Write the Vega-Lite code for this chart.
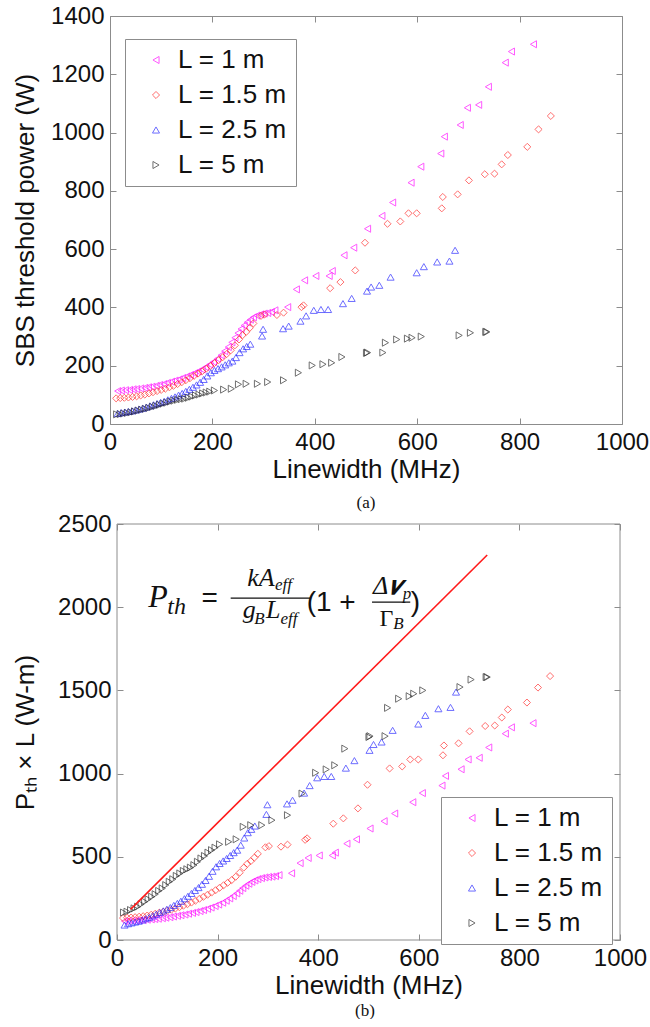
{
  "$schema": "https://vega.github.io/schema/vega-lite/v6.json",
  "background": "white",
  "padding": {"left": 12, "top": 3, "right": 3, "bottom": 0},
  "config": {
    "font": "Liberation Sans",
    "view": {"stroke": "#8c8c8c", "strokeWidth": 1},
    "axis": {
      "labelFont": "Liberation Sans", "labelFontSize": 24, "labelColor": "#111111", "format": "d",
      "titleFont": "Liberation Sans", "titleFontSize": 26, "titleFontWeight": "normal", "titleColor": "#111111",
      "domain": false, "grid": false, "tickColor": "#8c8c8c", "tickSize": -6, "labelFlush": false, "labelOverlap": false
    },
    "axisX": {"labelPadding": 12, "titlePadding": 2},
    "axisY": {"labelPadding": 12},
    "legend": {
      "orient": "none", "title": null, "labelFont": "Liberation Sans", "labelFontSize": 26, "labelColor": "#111111",
      "strokeColor": "#8c8c8c", "fillColor": "white", "padding": 8, "rowPadding": 9, "symbolSize": 50,
      "symbolStrokeWidth": 1, "symbolOffset": 10, "labelOffset": 9
    }
  },
  "datasets": {
    "a": [
      {"L":"L = 1 m","x":15,"y":113},{"L":"L = 1 m","x":22,"y":115},{"L":"L = 1 m","x":30,"y":116},{"L":"L = 1 m","x":38,"y":117},{"L":"L = 1 m","x":45,"y":119},{"L":"L = 1 m","x":52,"y":120},{"L":"L = 1 m","x":60,"y":122},{"L":"L = 1 m","x":68,"y":124},{"L":"L = 1 m","x":75,"y":126},{"L":"L = 1 m","x":82,"y":128},{"L":"L = 1 m","x":90,"y":131},{"L":"L = 1 m","x":97,"y":134},{"L":"L = 1 m","x":105,"y":137},{"L":"L = 1 m","x":112,"y":141},{"L":"L = 1 m","x":120,"y":145},{"L":"L = 1 m","x":127,"y":149},{"L":"L = 1 m","x":135,"y":153},{"L":"L = 1 m","x":142,"y":158},{"L":"L = 1 m","x":150,"y":163},{"L":"L = 1 m","x":157,"y":168},{"L":"L = 1 m","x":165,"y":174},{"L":"L = 1 m","x":172,"y":180},{"L":"L = 1 m","x":180,"y":187},{"L":"L = 1 m","x":187,"y":195},{"L":"L = 1 m","x":195,"y":204},{"L":"L = 1 m","x":202,"y":213},{"L":"L = 1 m","x":210,"y":224},{"L":"L = 1 m","x":217,"y":236},{"L":"L = 1 m","x":224,"y":250},{"L":"L = 1 m","x":231,"y":264},{"L":"L = 1 m","x":238,"y":280},{"L":"L = 1 m","x":244,"y":296},{"L":"L = 1 m","x":250,"y":312},{"L":"L = 1 m","x":256,"y":326},{"L":"L = 1 m","x":262,"y":338},{"L":"L = 1 m","x":268,"y":349},{"L":"L = 1 m","x":274,"y":358},{"L":"L = 1 m","x":280,"y":366},{"L":"L = 1 m","x":287,"y":372},{"L":"L = 1 m","x":294,"y":376},{"L":"L = 1 m","x":301,"y":379},{"L":"L = 1 m","x":308,"y":381},{"L":"L = 1 m","x":315,"y":384},{"L":"L = 1 m","x":322,"y":390},{"L":"L = 1 m","x":347,"y":401},{"L":"L = 1 m","x":364,"y":462},{"L":"L = 1 m","x":380,"y":493},{"L":"L = 1 m","x":402,"y":508},{"L":"L = 1 m","x":428,"y":508},{"L":"L = 1 m","x":434,"y":525},{"L":"L = 1 m","x":457,"y":579},{"L":"L = 1 m","x":476,"y":605},{"L":"L = 1 m","x":503,"y":670},{"L":"L = 1 m","x":531,"y":714},{"L":"L = 1 m","x":552,"y":760},{"L":"L = 1 m","x":588,"y":828},{"L":"L = 1 m","x":607,"y":883},{"L":"L = 1 m","x":646,"y":928},{"L":"L = 1 m","x":653,"y":986},{"L":"L = 1 m","x":684,"y":1026},{"L":"L = 1 m","x":698,"y":1085},{"L":"L = 1 m","x":720,"y":1095},{"L":"L = 1 m","x":739,"y":1157},{"L":"L = 1 m","x":772,"y":1240},{"L":"L = 1 m","x":784,"y":1278},{"L":"L = 1 m","x":827,"y":1303},
      {"L":"L = 1.5 m","x":12,"y":88},{"L":"L = 1.5 m","x":20,"y":89},{"L":"L = 1.5 m","x":28,"y":90},{"L":"L = 1.5 m","x":36,"y":91},{"L":"L = 1.5 m","x":44,"y":93},{"L":"L = 1.5 m","x":52,"y":95},{"L":"L = 1.5 m","x":60,"y":98},{"L":"L = 1.5 m","x":68,"y":101},{"L":"L = 1.5 m","x":76,"y":105},{"L":"L = 1.5 m","x":84,"y":109},{"L":"L = 1.5 m","x":92,"y":113},{"L":"L = 1.5 m","x":100,"y":117},{"L":"L = 1.5 m","x":108,"y":121},{"L":"L = 1.5 m","x":116,"y":126},{"L":"L = 1.5 m","x":124,"y":131},{"L":"L = 1.5 m","x":132,"y":137},{"L":"L = 1.5 m","x":140,"y":143},{"L":"L = 1.5 m","x":148,"y":150},{"L":"L = 1.5 m","x":156,"y":157},{"L":"L = 1.5 m","x":164,"y":165},{"L":"L = 1.5 m","x":172,"y":173},{"L":"L = 1.5 m","x":180,"y":181},{"L":"L = 1.5 m","x":188,"y":190},{"L":"L = 1.5 m","x":196,"y":199},{"L":"L = 1.5 m","x":204,"y":209},{"L":"L = 1.5 m","x":212,"y":219},{"L":"L = 1.5 m","x":220,"y":229},{"L":"L = 1.5 m","x":228,"y":240},{"L":"L = 1.5 m","x":236,"y":253},{"L":"L = 1.5 m","x":244,"y":270},{"L":"L = 1.5 m","x":252,"y":290},{"L":"L = 1.5 m","x":259,"y":305},{"L":"L = 1.5 m","x":266,"y":316},{"L":"L = 1.5 m","x":273,"y":330},{"L":"L = 1.5 m","x":280,"y":345},{"L":"L = 1.5 m","x":295,"y":371},{"L":"L = 1.5 m","x":302,"y":376},{"L":"L = 1.5 m","x":326,"y":374},{"L":"L = 1.5 m","x":339,"y":382},{"L":"L = 1.5 m","x":374,"y":401},{"L":"L = 1.5 m","x":378,"y":407},{"L":"L = 1.5 m","x":430,"y":466},{"L":"L = 1.5 m","x":450,"y":487},{"L":"L = 1.5 m","x":479,"y":527},{"L":"L = 1.5 m","x":498,"y":622},{"L":"L = 1.5 m","x":542,"y":687},{"L":"L = 1.5 m","x":567,"y":695},{"L":"L = 1.5 m","x":583,"y":723},{"L":"L = 1.5 m","x":599,"y":723},{"L":"L = 1.5 m","x":648,"y":740},{"L":"L = 1.5 m","x":650,"y":779},{"L":"L = 1.5 m","x":679,"y":788},{"L":"L = 1.5 m","x":701,"y":836},{"L":"L = 1.5 m","x":732,"y":857},{"L":"L = 1.5 m","x":751,"y":859},{"L":"L = 1.5 m","x":765,"y":891},{"L":"L = 1.5 m","x":777,"y":923},{"L":"L = 1.5 m","x":815,"y":951},{"L":"L = 1.5 m","x":837,"y":1011},{"L":"L = 1.5 m","x":861,"y":1057},
      {"L":"L = 2.5 m","x":15,"y":36},{"L":"L = 2.5 m","x":22,"y":39},{"L":"L = 2.5 m","x":29,"y":41},{"L":"L = 2.5 m","x":36,"y":43},{"L":"L = 2.5 m","x":43,"y":45},{"L":"L = 2.5 m","x":50,"y":48},{"L":"L = 2.5 m","x":57,"y":51},{"L":"L = 2.5 m","x":64,"y":54},{"L":"L = 2.5 m","x":71,"y":58},{"L":"L = 2.5 m","x":78,"y":62},{"L":"L = 2.5 m","x":85,"y":66},{"L":"L = 2.5 m","x":92,"y":70},{"L":"L = 2.5 m","x":99,"y":74},{"L":"L = 2.5 m","x":106,"y":78},{"L":"L = 2.5 m","x":113,"y":83},{"L":"L = 2.5 m","x":120,"y":88},{"L":"L = 2.5 m","x":127,"y":93},{"L":"L = 2.5 m","x":134,"y":99},{"L":"L = 2.5 m","x":141,"y":105},{"L":"L = 2.5 m","x":148,"y":112},{"L":"L = 2.5 m","x":155,"y":119},{"L":"L = 2.5 m","x":162,"y":126},{"L":"L = 2.5 m","x":169,"y":134},{"L":"L = 2.5 m","x":176,"y":143},{"L":"L = 2.5 m","x":183,"y":153},{"L":"L = 2.5 m","x":190,"y":165},{"L":"L = 2.5 m","x":197,"y":176},{"L":"L = 2.5 m","x":204,"y":184},{"L":"L = 2.5 m","x":211,"y":190},{"L":"L = 2.5 m","x":218,"y":196},{"L":"L = 2.5 m","x":225,"y":203},{"L":"L = 2.5 m","x":232,"y":210},{"L":"L = 2.5 m","x":239,"y":216},{"L":"L = 2.5 m","x":246,"y":228},{"L":"L = 2.5 m","x":253,"y":245},{"L":"L = 2.5 m","x":260,"y":258},{"L":"L = 2.5 m","x":267,"y":266},{"L":"L = 2.5 m","x":274,"y":274},{"L":"L = 2.5 m","x":297,"y":302},{"L":"L = 2.5 m","x":299,"y":325},{"L":"L = 2.5 m","x":338,"y":327},{"L":"L = 2.5 m","x":349,"y":336},{"L":"L = 2.5 m","x":372,"y":353},{"L":"L = 2.5 m","x":383,"y":371},{"L":"L = 2.5 m","x":398,"y":390},{"L":"L = 2.5 m","x":412,"y":393},{"L":"L = 2.5 m","x":426,"y":393},{"L":"L = 2.5 m","x":455,"y":413},{"L":"L = 2.5 m","x":472,"y":431},{"L":"L = 2.5 m","x":502,"y":456},{"L":"L = 2.5 m","x":510,"y":470},{"L":"L = 2.5 m","x":526,"y":476},{"L":"L = 2.5 m","x":548,"y":504},{"L":"L = 2.5 m","x":599,"y":519},{"L":"L = 2.5 m","x":613,"y":540},{"L":"L = 2.5 m","x":639,"y":556},{"L":"L = 2.5 m","x":663,"y":559},{"L":"L = 2.5 m","x":674,"y":596},
      {"L":"L = 5 m","x":13,"y":33},{"L":"L = 5 m","x":20,"y":34},{"L":"L = 5 m","x":27,"y":36},{"L":"L = 5 m","x":34,"y":38},{"L":"L = 5 m","x":41,"y":40},{"L":"L = 5 m","x":48,"y":43},{"L":"L = 5 m","x":55,"y":46},{"L":"L = 5 m","x":62,"y":49},{"L":"L = 5 m","x":69,"y":52},{"L":"L = 5 m","x":76,"y":55},{"L":"L = 5 m","x":83,"y":59},{"L":"L = 5 m","x":90,"y":62},{"L":"L = 5 m","x":97,"y":66},{"L":"L = 5 m","x":104,"y":70},{"L":"L = 5 m","x":111,"y":73},{"L":"L = 5 m","x":118,"y":77},{"L":"L = 5 m","x":125,"y":80},{"L":"L = 5 m","x":132,"y":83},{"L":"L = 5 m","x":139,"y":85},{"L":"L = 5 m","x":146,"y":87},{"L":"L = 5 m","x":153,"y":90},{"L":"L = 5 m","x":160,"y":94},{"L":"L = 5 m","x":167,"y":98},{"L":"L = 5 m","x":174,"y":101},{"L":"L = 5 m","x":181,"y":105},{"L":"L = 5 m","x":188,"y":108},{"L":"L = 5 m","x":195,"y":111},{"L":"L = 5 m","x":204,"y":115},{"L":"L = 5 m","x":222,"y":118},{"L":"L = 5 m","x":237,"y":121},{"L":"L = 5 m","x":251,"y":136},{"L":"L = 5 m","x":266,"y":138},{"L":"L = 5 m","x":288,"y":138},{"L":"L = 5 m","x":308,"y":144},{"L":"L = 5 m","x":339,"y":150},{"L":"L = 5 m","x":368,"y":176},{"L":"L = 5 m","x":395,"y":201},{"L":"L = 5 m","x":416,"y":205},{"L":"L = 5 m","x":433,"y":210},{"L":"L = 5 m","x":453,"y":230},{"L":"L = 5 m","x":501,"y":244},{"L":"L = 5 m","x":503,"y":245},{"L":"L = 5 m","x":533,"y":245},{"L":"L = 5 m","x":538,"y":279},{"L":"L = 5 m","x":560,"y":290},{"L":"L = 5 m","x":581,"y":293},{"L":"L = 5 m","x":590,"y":296},{"L":"L = 5 m","x":608,"y":300},{"L":"L = 5 m","x":682,"y":304},{"L":"L = 5 m","x":704,"y":313},{"L":"L = 5 m","x":734,"y":316},{"L":"L = 5 m","x":736,"y":316}
    ],
    "b": [
      {"L":"L = 1 m","x":15,"y":113},{"L":"L = 1 m","x":22,"y":115},{"L":"L = 1 m","x":30,"y":116},{"L":"L = 1 m","x":38,"y":117},{"L":"L = 1 m","x":45,"y":119},{"L":"L = 1 m","x":52,"y":120},{"L":"L = 1 m","x":60,"y":122},{"L":"L = 1 m","x":68,"y":124},{"L":"L = 1 m","x":75,"y":126},{"L":"L = 1 m","x":82,"y":128},{"L":"L = 1 m","x":90,"y":131},{"L":"L = 1 m","x":97,"y":134},{"L":"L = 1 m","x":105,"y":137},{"L":"L = 1 m","x":112,"y":141},{"L":"L = 1 m","x":120,"y":145},{"L":"L = 1 m","x":127,"y":149},{"L":"L = 1 m","x":135,"y":153},{"L":"L = 1 m","x":142,"y":158},{"L":"L = 1 m","x":150,"y":163},{"L":"L = 1 m","x":157,"y":168},{"L":"L = 1 m","x":165,"y":174},{"L":"L = 1 m","x":172,"y":180},{"L":"L = 1 m","x":180,"y":187},{"L":"L = 1 m","x":187,"y":195},{"L":"L = 1 m","x":195,"y":204},{"L":"L = 1 m","x":202,"y":213},{"L":"L = 1 m","x":210,"y":224},{"L":"L = 1 m","x":217,"y":236},{"L":"L = 1 m","x":224,"y":250},{"L":"L = 1 m","x":231,"y":264},{"L":"L = 1 m","x":238,"y":280},{"L":"L = 1 m","x":244,"y":296},{"L":"L = 1 m","x":250,"y":312},{"L":"L = 1 m","x":256,"y":326},{"L":"L = 1 m","x":262,"y":338},{"L":"L = 1 m","x":268,"y":349},{"L":"L = 1 m","x":274,"y":358},{"L":"L = 1 m","x":280,"y":366},{"L":"L = 1 m","x":287,"y":372},{"L":"L = 1 m","x":294,"y":376},{"L":"L = 1 m","x":301,"y":379},{"L":"L = 1 m","x":308,"y":381},{"L":"L = 1 m","x":315,"y":384},{"L":"L = 1 m","x":322,"y":390},{"L":"L = 1 m","x":347,"y":401},{"L":"L = 1 m","x":364,"y":462},{"L":"L = 1 m","x":380,"y":493},{"L":"L = 1 m","x":402,"y":508},{"L":"L = 1 m","x":428,"y":508},{"L":"L = 1 m","x":434,"y":525},{"L":"L = 1 m","x":457,"y":579},{"L":"L = 1 m","x":476,"y":605},{"L":"L = 1 m","x":503,"y":670},{"L":"L = 1 m","x":531,"y":714},{"L":"L = 1 m","x":552,"y":760},{"L":"L = 1 m","x":588,"y":828},{"L":"L = 1 m","x":607,"y":883},{"L":"L = 1 m","x":646,"y":928},{"L":"L = 1 m","x":653,"y":986},{"L":"L = 1 m","x":684,"y":1026},{"L":"L = 1 m","x":698,"y":1085},{"L":"L = 1 m","x":720,"y":1095},{"L":"L = 1 m","x":739,"y":1157},{"L":"L = 1 m","x":772,"y":1240},{"L":"L = 1 m","x":784,"y":1278},{"L":"L = 1 m","x":827,"y":1303},
      {"L":"L = 1.5 m","x":12,"y":132},{"L":"L = 1.5 m","x":20,"y":134},{"L":"L = 1.5 m","x":28,"y":135},{"L":"L = 1.5 m","x":36,"y":137},{"L":"L = 1.5 m","x":44,"y":140},{"L":"L = 1.5 m","x":52,"y":143},{"L":"L = 1.5 m","x":60,"y":147},{"L":"L = 1.5 m","x":68,"y":152},{"L":"L = 1.5 m","x":76,"y":158},{"L":"L = 1.5 m","x":84,"y":164},{"L":"L = 1.5 m","x":92,"y":170},{"L":"L = 1.5 m","x":100,"y":176},{"L":"L = 1.5 m","x":108,"y":182},{"L":"L = 1.5 m","x":116,"y":189},{"L":"L = 1.5 m","x":124,"y":197},{"L":"L = 1.5 m","x":132,"y":206},{"L":"L = 1.5 m","x":140,"y":215},{"L":"L = 1.5 m","x":148,"y":225},{"L":"L = 1.5 m","x":156,"y":236},{"L":"L = 1.5 m","x":164,"y":248},{"L":"L = 1.5 m","x":172,"y":260},{"L":"L = 1.5 m","x":180,"y":272},{"L":"L = 1.5 m","x":188,"y":285},{"L":"L = 1.5 m","x":196,"y":299},{"L":"L = 1.5 m","x":204,"y":314},{"L":"L = 1.5 m","x":212,"y":329},{"L":"L = 1.5 m","x":220,"y":344},{"L":"L = 1.5 m","x":228,"y":360},{"L":"L = 1.5 m","x":236,"y":380},{"L":"L = 1.5 m","x":244,"y":405},{"L":"L = 1.5 m","x":252,"y":435},{"L":"L = 1.5 m","x":259,"y":458},{"L":"L = 1.5 m","x":266,"y":474},{"L":"L = 1.5 m","x":273,"y":495},{"L":"L = 1.5 m","x":280,"y":518},{"L":"L = 1.5 m","x":295,"y":557},{"L":"L = 1.5 m","x":302,"y":564},{"L":"L = 1.5 m","x":326,"y":561},{"L":"L = 1.5 m","x":339,"y":573},{"L":"L = 1.5 m","x":374,"y":602},{"L":"L = 1.5 m","x":378,"y":611},{"L":"L = 1.5 m","x":430,"y":699},{"L":"L = 1.5 m","x":450,"y":731},{"L":"L = 1.5 m","x":479,"y":791},{"L":"L = 1.5 m","x":498,"y":933},{"L":"L = 1.5 m","x":542,"y":1031},{"L":"L = 1.5 m","x":567,"y":1043},{"L":"L = 1.5 m","x":583,"y":1085},{"L":"L = 1.5 m","x":599,"y":1085},{"L":"L = 1.5 m","x":648,"y":1110},{"L":"L = 1.5 m","x":650,"y":1169},{"L":"L = 1.5 m","x":679,"y":1182},{"L":"L = 1.5 m","x":701,"y":1254},{"L":"L = 1.5 m","x":732,"y":1286},{"L":"L = 1.5 m","x":751,"y":1289},{"L":"L = 1.5 m","x":765,"y":1337},{"L":"L = 1.5 m","x":777,"y":1385},{"L":"L = 1.5 m","x":815,"y":1427},{"L":"L = 1.5 m","x":837,"y":1517},{"L":"L = 1.5 m","x":861,"y":1586},
      {"L":"L = 2.5 m","x":15,"y":90},{"L":"L = 2.5 m","x":22,"y":98},{"L":"L = 2.5 m","x":29,"y":103},{"L":"L = 2.5 m","x":36,"y":108},{"L":"L = 2.5 m","x":43,"y":113},{"L":"L = 2.5 m","x":50,"y":120},{"L":"L = 2.5 m","x":57,"y":128},{"L":"L = 2.5 m","x":64,"y":135},{"L":"L = 2.5 m","x":71,"y":145},{"L":"L = 2.5 m","x":78,"y":155},{"L":"L = 2.5 m","x":85,"y":165},{"L":"L = 2.5 m","x":92,"y":175},{"L":"L = 2.5 m","x":99,"y":185},{"L":"L = 2.5 m","x":106,"y":195},{"L":"L = 2.5 m","x":113,"y":208},{"L":"L = 2.5 m","x":120,"y":220},{"L":"L = 2.5 m","x":127,"y":233},{"L":"L = 2.5 m","x":134,"y":248},{"L":"L = 2.5 m","x":141,"y":263},{"L":"L = 2.5 m","x":148,"y":280},{"L":"L = 2.5 m","x":155,"y":298},{"L":"L = 2.5 m","x":162,"y":315},{"L":"L = 2.5 m","x":169,"y":335},{"L":"L = 2.5 m","x":176,"y":358},{"L":"L = 2.5 m","x":183,"y":383},{"L":"L = 2.5 m","x":190,"y":413},{"L":"L = 2.5 m","x":197,"y":440},{"L":"L = 2.5 m","x":204,"y":460},{"L":"L = 2.5 m","x":211,"y":475},{"L":"L = 2.5 m","x":218,"y":490},{"L":"L = 2.5 m","x":225,"y":508},{"L":"L = 2.5 m","x":232,"y":525},{"L":"L = 2.5 m","x":239,"y":540},{"L":"L = 2.5 m","x":246,"y":570},{"L":"L = 2.5 m","x":253,"y":613},{"L":"L = 2.5 m","x":260,"y":645},{"L":"L = 2.5 m","x":267,"y":665},{"L":"L = 2.5 m","x":274,"y":685},{"L":"L = 2.5 m","x":297,"y":755},{"L":"L = 2.5 m","x":299,"y":813},{"L":"L = 2.5 m","x":338,"y":818},{"L":"L = 2.5 m","x":349,"y":840},{"L":"L = 2.5 m","x":372,"y":883},{"L":"L = 2.5 m","x":383,"y":928},{"L":"L = 2.5 m","x":398,"y":975},{"L":"L = 2.5 m","x":412,"y":983},{"L":"L = 2.5 m","x":426,"y":983},{"L":"L = 2.5 m","x":455,"y":1033},{"L":"L = 2.5 m","x":472,"y":1078},{"L":"L = 2.5 m","x":502,"y":1140},{"L":"L = 2.5 m","x":510,"y":1175},{"L":"L = 2.5 m","x":526,"y":1190},{"L":"L = 2.5 m","x":548,"y":1260},{"L":"L = 2.5 m","x":599,"y":1298},{"L":"L = 2.5 m","x":613,"y":1350},{"L":"L = 2.5 m","x":639,"y":1390},{"L":"L = 2.5 m","x":663,"y":1398},{"L":"L = 2.5 m","x":674,"y":1490},
      {"L":"L = 5 m","x":13,"y":165},{"L":"L = 5 m","x":20,"y":170},{"L":"L = 5 m","x":27,"y":180},{"L":"L = 5 m","x":34,"y":190},{"L":"L = 5 m","x":41,"y":200},{"L":"L = 5 m","x":48,"y":215},{"L":"L = 5 m","x":55,"y":230},{"L":"L = 5 m","x":62,"y":245},{"L":"L = 5 m","x":69,"y":260},{"L":"L = 5 m","x":76,"y":275},{"L":"L = 5 m","x":83,"y":295},{"L":"L = 5 m","x":90,"y":310},{"L":"L = 5 m","x":97,"y":330},{"L":"L = 5 m","x":104,"y":350},{"L":"L = 5 m","x":111,"y":365},{"L":"L = 5 m","x":118,"y":385},{"L":"L = 5 m","x":125,"y":400},{"L":"L = 5 m","x":132,"y":415},{"L":"L = 5 m","x":139,"y":425},{"L":"L = 5 m","x":146,"y":435},{"L":"L = 5 m","x":153,"y":450},{"L":"L = 5 m","x":160,"y":470},{"L":"L = 5 m","x":167,"y":490},{"L":"L = 5 m","x":174,"y":505},{"L":"L = 5 m","x":181,"y":525},{"L":"L = 5 m","x":188,"y":540},{"L":"L = 5 m","x":195,"y":555},{"L":"L = 5 m","x":204,"y":575},{"L":"L = 5 m","x":222,"y":590},{"L":"L = 5 m","x":237,"y":605},{"L":"L = 5 m","x":251,"y":680},{"L":"L = 5 m","x":266,"y":690},{"L":"L = 5 m","x":288,"y":690},{"L":"L = 5 m","x":308,"y":720},{"L":"L = 5 m","x":339,"y":750},{"L":"L = 5 m","x":368,"y":880},{"L":"L = 5 m","x":395,"y":1005},{"L":"L = 5 m","x":416,"y":1025},{"L":"L = 5 m","x":433,"y":1050},{"L":"L = 5 m","x":453,"y":1150},{"L":"L = 5 m","x":501,"y":1220},{"L":"L = 5 m","x":503,"y":1225},{"L":"L = 5 m","x":533,"y":1225},{"L":"L = 5 m","x":538,"y":1395},{"L":"L = 5 m","x":560,"y":1450},{"L":"L = 5 m","x":581,"y":1465},{"L":"L = 5 m","x":590,"y":1480},{"L":"L = 5 m","x":608,"y":1500},{"L":"L = 5 m","x":682,"y":1520},{"L":"L = 5 m","x":704,"y":1565},{"L":"L = 5 m","x":734,"y":1580},{"L":"L = 5 m","x":736,"y":1580}
    ]
  },
  "resolve": {"scale": {"color": "independent", "shape": "independent"}, "legend": {"color": "independent", "shape": "independent"}},
  "columns": 1,
  "spacing": 0,
  "concat": [
    {
      "width": 512,
      "height": 408,
      "title": {"text": "(a)", "orient": "bottom", "font": "Liberation Serif", "fontSize": 17, "fontWeight": "normal", "color": "#111111", "offset": 13, "baseline": "top", "anchor": "middle"},
      "resolve": {"axis": {"x": "independent", "y": "independent"}},
      "layer": [
        {
          "data": {"name": "a"},
          "mark": {"type": "point", "filled": false, "strokeWidth": 1, "size": 50, "opacity": 0.65},
          "encoding": {
            "x": {"field": "x", "type": "quantitative", "scale": {"domain": [0, 1000], "nice": false, "zero": false}, "axis": {"values": [0, 200, 400, 600, 800, 1000], "title": "Linewidth (MHz)"}},
            "y": {"field": "y", "type": "quantitative", "scale": {"domain": [0, 1400], "nice": false, "zero": false}, "axis": {"values": [0, 200, 400, 600, 800, 1000, 1200, 1400], "title": "SBS threshold power (W)", "titlePadding": 12}},
            "color": {"field": "L", "type": "nominal", "scale": {"domain": ["L = 1 m", "L = 1.5 m", "L = 2.5 m", "L = 5 m"], "range": ["#ff00ff", "#ff2020", "#1f1fff", "#222222"]}, "legend": {"legendX": 15, "legendY": 23}},
            "shape": {"field": "L", "type": "nominal", "scale": {"domain": ["L = 1 m", "L = 1.5 m", "L = 2.5 m", "L = 5 m"], "range": ["triangle-left", "diamond", "triangle-up", "triangle-right"]}, "legend": {"legendX": 15, "legendY": 23}}
          }
        },
        {
          "data": {"name": "a"},
          "mark": {"type": "point", "opacity": 0},
          "encoding": {
            "x": {"field": "x", "type": "quantitative", "axis": {"orient": "top", "values": [0, 200, 400, 600, 800, 1000], "labels": false, "title": null}},
            "y": {"field": "y", "type": "quantitative", "axis": {"orient": "right", "values": [0, 200, 400, 600, 800, 1000, 1200, 1400], "labels": false, "title": null}}
          }
        }
      ]
    },
    {
      "width": 510,
      "height": 416,
      "view": {"stroke": null},
      "title": {"text": "(b)", "orient": "bottom", "font": "Liberation Serif", "fontSize": 17, "fontWeight": "normal", "color": "#111111", "offset": 5, "baseline": "top", "anchor": "middle"},
      "resolve": {"axis": {"x": "independent", "y": "independent"}},
      "layer": [
        {
          "data": {"values": [{}]},
          "mark": {"type": "rect", "fill": null, "fillOpacity": 0, "stroke": "#8c8c8c", "strokeWidth": 1},
          "encoding": {
            "x": {"datum": 0, "type": "quantitative", "axis": null},
            "x2": {"datum": 1000},
            "y": {"datum": 0, "type": "quantitative", "axis": null},
            "y2": {"datum": 2500}
          }
        },
        {
          "data": {"name": "b"},
          "mark": {"type": "point", "filled": false, "strokeWidth": 1, "size": 50, "opacity": 0.65},
          "encoding": {
            "x": {"field": "x", "type": "quantitative", "scale": {"domain": [0, 1000], "range": [7, 510], "nice": false, "zero": false}, "axis": {"values": [0, 200, 400, 600, 800, 1000], "title": "Linewidth (MHz)"}},
            "y": {"field": "y", "type": "quantitative", "scale": {"domain": [0, 2500], "nice": false, "zero": false}, "axis": {"values": [0, 500, 1000, 1500, 2000, 2500], "title": "Pₜₕ × L (W-m)", "titlePadding": 19, "offset": -7}},
            "color": {"field": "L", "type": "nominal", "scale": {"domain": ["L = 1 m", "L = 1.5 m", "L = 2.5 m", "L = 5 m"], "range": ["#ff00ff", "#ff2020", "#1f1fff", "#222222"]}, "legend": {"legendX": 331, "legendY": 273}},
            "shape": {"field": "L", "type": "nominal", "scale": {"domain": ["L = 1 m", "L = 1.5 m", "L = 2.5 m", "L = 5 m"], "range": ["triangle-left", "diamond", "triangle-up", "triangle-right"]}, "legend": {"legendX": 331, "legendY": 273}}
          }
        },
        {
          "data": {"name": "b"},
          "mark": {"type": "point", "opacity": 0},
          "encoding": {
            "x": {"field": "x", "type": "quantitative", "axis": {"orient": "top", "values": [0, 200, 400, 600, 800, 1000], "labels": false, "title": null}},
            "y": {"field": "y", "type": "quantitative", "axis": {"orient": "right", "values": [0, 500, 1000, 1500, 2000, 2500], "labels": false, "title": null}}
          }
        },
        {
          "data": {"values": [{"x": 27, "y": 184}, {"x": 736, "y": 2314}]},
          "mark": {"type": "line", "color": "#ff1a1a", "strokeWidth": 1.6},
          "encoding": {
            "x": {"field": "x", "type": "quantitative", "axis": null},
            "y": {"field": "y", "type": "quantitative", "axis": null}
          }
        },
        {
          "data": {"values": [{"x": 226, "x2": 384, "y": 2055}, {"x": 507, "x2": 583, "y": 2031}]},
          "mark": {"type": "rule", "color": "#111111", "strokeWidth": 1.2},
          "encoding": {
            "x": {"field": "x", "type": "quantitative", "axis": null},
            "x2": {"field": "x2"},
            "y": {"field": "y", "type": "quantitative", "axis": null}
          }
        },
        {
          "data": {"values": [{"x": 62, "y": 1999, "t": "P"}]},
          "mark": {"type": "text", "font": "Liberation Serif", "fontStyle": "italic", "fontSize": 32, "align": "left", "baseline": "alphabetic", "color": "#111111"},
          "encoding": {
            "x": {"field": "x", "type": "quantitative", "axis": null},
            "y": {"field": "y", "type": "quantitative", "axis": null},
            "text": {"field": "t"}
          }
        },
        {
          "data": {"values": [{"x": 100, "y": 1962, "t": "th"}]},
          "mark": {"type": "text", "font": "Liberation Serif", "fontStyle": "italic", "fontSize": 24, "align": "left", "baseline": "alphabetic", "color": "#111111"},
          "encoding": {
            "x": {"field": "x", "type": "quantitative", "axis": null},
            "y": {"field": "y", "type": "quantitative", "axis": null},
            "text": {"field": "t"}
          }
        },
        {
          "data": {"values": [{"x": 259, "y": 2126, "t": "kA"}, {"x": 250, "y": 1935, "t": "g"}, {"x": 296, "y": 1935, "t": "L"}, {"x": 509, "y": 2079, "t": "Δ𝝂"}]},
          "mark": {"type": "text", "font": "Liberation Serif", "fontStyle": "italic", "fontSize": 26, "align": "left", "baseline": "alphabetic", "color": "#111111"},
          "encoding": {
            "x": {"field": "x", "type": "quantitative", "axis": null},
            "y": {"field": "y", "type": "quantitative", "axis": null},
            "text": {"field": "t"}
          }
        },
        {
          "data": {"values": [{"x": 314, "y": 2105, "t": "eff"}, {"x": 273, "y": 1899, "t": "B"}, {"x": 325, "y": 1899, "t": "eff"}, {"x": 568, "y": 2049, "t": "p"}, {"x": 549, "y": 1869, "t": "B"}]},
          "mark": {"type": "text", "font": "Liberation Serif", "fontStyle": "italic", "fontSize": 17, "align": "left", "baseline": "alphabetic", "color": "#111111"},
          "encoding": {
            "x": {"field": "x", "type": "quantitative", "axis": null},
            "y": {"field": "y", "type": "quantitative", "axis": null},
            "text": {"field": "t"}
          }
        },
        {
          "data": {"values": [{"x": 522, "y": 1887, "t": "Γ"}]},
          "mark": {"type": "text", "font": "Liberation Serif", "fontSize": 24, "align": "left", "baseline": "alphabetic", "color": "#111111"},
          "encoding": {
            "x": {"field": "x", "type": "quantitative", "axis": null},
            "y": {"field": "y", "type": "quantitative", "axis": null},
            "text": {"field": "t"}
          }
        },
        {
          "data": {"values": [{"x": 168, "y": 2049, "t": "="}, {"x": 377, "y": 2025, "t": "(1 +"}, {"x": 584, "y": 2025, "t": ")"}]},
          "mark": {"type": "text", "font": "Liberation Sans", "fontSize": 28, "align": "left", "baseline": "middle", "color": "#111111"},
          "encoding": {
            "x": {"field": "x", "type": "quantitative", "axis": null},
            "y": {"field": "y", "type": "quantitative", "axis": null},
            "text": {"field": "t"}
          }
        }
      ]
    }
  ]
}
